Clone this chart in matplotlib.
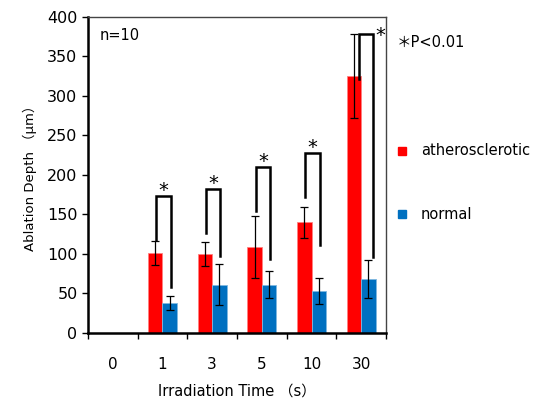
import numpy as np
import matplotlib
matplotlib.use("Agg")
import matplotlib.pyplot as plt

plt.rcParams["font.family"] = ["DejaVu Sans", "Noto Sans CJK JP"]

# data
times = ["0", "1", "3", "5", "10", "30"]
athero = [np.nan, 101, 100, 109, 140, 325]
athero_err = [np.nan, 15, 15, 39, 20, 53]
normal = [np.nan, 38, 61, 61, 53, 68]
normal_err = [np.nan, 9, 26, 17, 17, 24]

# significance brackets: top, left leg end, right leg end
brk_top = [np.nan, 173, 182, 210, 228, 378]
brk_left = [np.nan, 118, 126, 154, 172, 322]
brk_right = [np.nan, 58, 97, 94, 111, 96]

fig = plt.figure(figsize=(5.43, 4.05), dpi=100)
ax = fig.add_axes([0.162, 0.178, 0.549, 0.780])

x = np.arange(len(times))
w = 0.29
ax.bar(x - w / 2, athero, w, color="#ff0000", edgecolor="#ff8080", linewidth=0.6,
       yerr=athero_err, error_kw=dict(ecolor="black", elinewidth=0.9, capsize=3, capthick=0.9))
ax.bar(x + w / 2, normal, w, color="#0070c0", edgecolor="#80b8e0", linewidth=0.6,
       yerr=normal_err, error_kw=dict(ecolor="black", elinewidth=0.9, capsize=3, capthick=0.9))

for i in range(1, len(times)):
    shift = 0.1 if i == 5 else 0.02
    xl = x[i] - w / 2 + shift
    xr = x[i] + w / 2 + shift
    ax.plot([xl, xl, xr, xr], [brk_left[i], brk_top[i], brk_top[i], brk_right[i]],
            color="black", lw=1.8, solid_joinstyle="miter")
    if i == 5:
        ax.text(xr + 0.04, brk_top[i] - 2, "*", fontsize=14, ha="left", va="center")
    else:
        ax.text((xl + xr) / 2, brk_top[i] + 7, "*", fontsize=14, ha="center", va="center")

ax.set_xlim(-0.5, len(times) - 0.5)
ax.set_ylim(0, 400)
ax.set_yticks(range(0, 401, 50))
ax.set_xticks(x)
ax.set_xticklabels(times)
ax.set_xticks(np.arange(-0.5, len(times), 1), minor=True)
ax.tick_params(axis="x", which="major", length=0, pad=17, labelsize=11)
ax.tick_params(axis="x", which="minor", length=4, width=1, direction="out")
ax.tick_params(axis="y", length=4, width=1, direction="out", labelsize=11.5)
for s in ["left", "bottom"]:
    ax.spines[s].set_linewidth(1.8)
for s in ["top", "right"]:
    ax.spines[s].set_linewidth(1.0)
    ax.spines[s].set_color("#444444")

ax.set_xlabel("Irradiation Time （s）", fontsize=10.5, labelpad=9)
ax.set_ylabel("Ablation Depth （μm）", fontsize=9.5, labelpad=7)
ax.text(0.04, 0.94, "n=10", transform=ax.transAxes, fontsize=10.5, ha="left", va="center")

# right-side legend and note
fig.text(0.731, 0.895, "＊P<0.01", fontsize=10.5, ha="left", va="center")
fig.patches.append(plt.Rectangle((0.733, 0.618), 0.015, 0.02, transform=fig.transFigure,
                                 color="#ff0000"))
fig.text(0.775, 0.628, "atherosclerotic", fontsize=10.5, ha="left", va="center")
fig.patches.append(plt.Rectangle((0.733, 0.461), 0.015, 0.02, transform=fig.transFigure,
                                 color="#0070c0"))
fig.text(0.775, 0.471, "normal", fontsize=10.5, ha="left", va="center")

fig.savefig("out.png", dpi=100)
